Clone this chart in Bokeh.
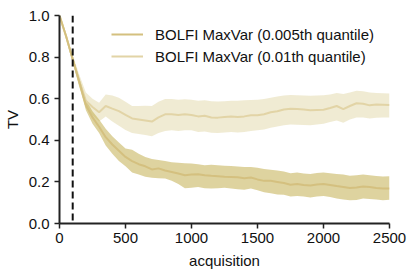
from bokeh.plotting import figure
from bokeh.models import Range1d, Span, FixedTicker, PrintfTickFormatter, Legend, LegendItem, ColumnDataSource
from bokeh.embed import file_html
from bokeh.resources import INLINE

acq = list(range(0, 2501, 50))

s1_label = "BOLFI MaxVar (0.005th quantile)"
s1_mean = [1.0, 0.90, 0.79, 0.68, 0.57, 0.51, 0.465, 0.415, 0.38, 0.35, 0.32, 0.30, 0.285, 0.275, 0.26, 0.265,
           0.255, 0.248, 0.24, 0.232, 0.236, 0.237, 0.232, 0.229, 0.227, 0.225, 0.224, 0.222, 0.218, 0.221, 0.212,
           0.205, 0.205, 0.2, 0.195, 0.186, 0.19, 0.185, 0.183, 0.188, 0.19, 0.185, 0.18, 0.176, 0.171, 0.173,
           0.178, 0.175, 0.171, 0.168, 0.168]
s1_lo = [1.0, 0.89, 0.775, 0.66, 0.545, 0.48, 0.435, 0.375, 0.335, 0.30, 0.275, 0.245, 0.235, 0.225, 0.22, 0.218,
         0.216, 0.205, 0.19, 0.17, 0.172, 0.175, 0.17, 0.168, 0.17, 0.172, 0.168, 0.165, 0.162, 0.168, 0.16,
         0.15, 0.145, 0.14, 0.138, 0.13, 0.132, 0.13, 0.125, 0.13, 0.132, 0.128, 0.12, 0.115, 0.112, 0.113,
         0.12, 0.118, 0.115, 0.112, 0.114]
s1_hi = [1.0, 0.91, 0.805, 0.70, 0.595, 0.54, 0.50, 0.455, 0.42, 0.39, 0.36, 0.355, 0.335, 0.32, 0.31, 0.305,
         0.30, 0.295, 0.292, 0.29, 0.288, 0.285, 0.28, 0.282, 0.28, 0.278, 0.276, 0.274, 0.272, 0.272, 0.268,
         0.262, 0.258, 0.255, 0.25, 0.242, 0.245, 0.24, 0.238, 0.243, 0.245, 0.242, 0.238, 0.235, 0.23, 0.232,
         0.235, 0.232, 0.228, 0.226, 0.227]

s2_label = "BOLFI MaxVar (0.01th quantile)"
s2_mean = [1.0, 0.90, 0.79, 0.685, 0.59, 0.56, 0.535, 0.565, 0.552, 0.54, 0.522, 0.505, 0.50, 0.495, 0.49, 0.51,
           0.525, 0.525, 0.522, 0.525, 0.522, 0.515, 0.518, 0.51, 0.509, 0.512, 0.515, 0.512, 0.515, 0.52, 0.52,
           0.525, 0.535, 0.54, 0.548, 0.552, 0.55, 0.548, 0.545, 0.546, 0.547, 0.555, 0.565, 0.55, 0.565, 0.578,
           0.576, 0.568, 0.572, 0.571, 0.57]
s2_lo = [1.0, 0.885, 0.77, 0.655, 0.555, 0.52, 0.49, 0.515, 0.49, 0.47, 0.45, 0.435, 0.43, 0.425, 0.42, 0.435,
         0.445, 0.448, 0.445, 0.448, 0.448, 0.44, 0.442, 0.436, 0.435, 0.437, 0.44, 0.438, 0.44, 0.445, 0.448,
         0.452, 0.46, 0.466, 0.472, 0.476, 0.475, 0.474, 0.472, 0.476, 0.48, 0.488, 0.495, 0.484, 0.5, 0.51,
         0.51, 0.505, 0.508, 0.51, 0.51]
s2_hi = [1.0, 0.915, 0.81, 0.715, 0.63, 0.60, 0.58, 0.62, 0.615, 0.605, 0.585, 0.565, 0.565, 0.566, 0.565, 0.585,
         0.598, 0.598, 0.595, 0.597, 0.595, 0.59, 0.592, 0.588, 0.586, 0.588, 0.59, 0.59, 0.592, 0.594, 0.595,
         0.598, 0.605, 0.61, 0.615, 0.618, 0.616, 0.615, 0.614, 0.615, 0.616, 0.62, 0.628, 0.622, 0.63, 0.638,
         0.636, 0.63, 0.628, 0.626, 0.625]

x_ticks = [0, 500, 1000, 1500, 2000, 2500]
y_ticks = [0.0, 0.2, 0.4, 0.6, 0.8, 1.0]
marker_x = 100

FONT = "Liberation Sans"
base = "#c3af50"

p = figure(width=415, height=274, output_backend="svg", toolbar_location=None,
           x_range=Range1d(0, 2500), y_range=Range1d(0, 1),
           min_border_left=58, min_border_right=26, min_border_top=15, min_border_bottom=51)
p.outline_line_color = None
p.xgrid.visible = False
p.ygrid.visible = False

src = ColumnDataSource(dict(x=acq, m1=s1_mean, l1=s1_lo, h1=s1_hi, m2=s2_mean, l2=s2_lo, h2=s2_hi))

p.varea(x="x", y1="l2", y2="h2", source=src, fill_color=base, fill_alpha=0.25)
p.varea(x="x", y1="l1", y2="h1", source=src, fill_color=base, fill_alpha=0.55)
r2 = p.line("x", "m2", source=src, line_color="#e2d4a6", line_width=2)
r1 = p.line("x", "m1", source=src, line_color="#d4c07f", line_width=2)

p.add_layout(Span(location=marker_x, dimension="height", line_color="#111111",
                  line_width=2, line_dash="7 4"))

for ax in (p.xaxis[0], p.yaxis[0]):
    ax.axis_line_width = 2
    ax.axis_line_color = "#222222"
    ax.major_tick_line_color = "#222222"
    ax.major_tick_line_width = 1.5
    ax.major_tick_in = 0
    ax.major_tick_out = 5
    ax.minor_tick_line_color = None
    ax.major_label_text_font = FONT
    ax.major_label_text_font_size = "15px"
    ax.major_label_text_color = "#111111"
    ax.axis_label_text_font = FONT
    ax.axis_label_text_font_size = "15px"
    ax.axis_label_text_font_style = "normal"
    ax.axis_label_text_color = "#111111"

p.xaxis[0].ticker = FixedTicker(ticks=x_ticks)
p.yaxis[0].ticker = FixedTicker(ticks=y_ticks)
p.yaxis[0].formatter = PrintfTickFormatter(format="%.1f")
p.xaxis[0].axis_label = "acquisition"
p.yaxis[0].axis_label = "TV"
p.yaxis[0].axis_label_standoff = 5
p.xaxis[0].axis_label_standoff = 6
p.xaxis[0].major_label_standoff = 4
p.yaxis[0].major_label_standoff = 5

legend = Legend(items=[LegendItem(label=s1_label, renderers=[r1]),
                       LegendItem(label=s2_label, renderers=[r2])],
                location=(52, 157), padding=0, margin=0, spacing=2,
                glyph_width=32, glyph_height=20, label_height=20, label_standoff=12,
                label_text_font=FONT, label_text_font_size="15px", label_text_color="#111111",
                border_line_color=None, background_fill_alpha=0)
p.add_layout(legend)

open("out.html", "w").write(file_html(p, INLINE))
